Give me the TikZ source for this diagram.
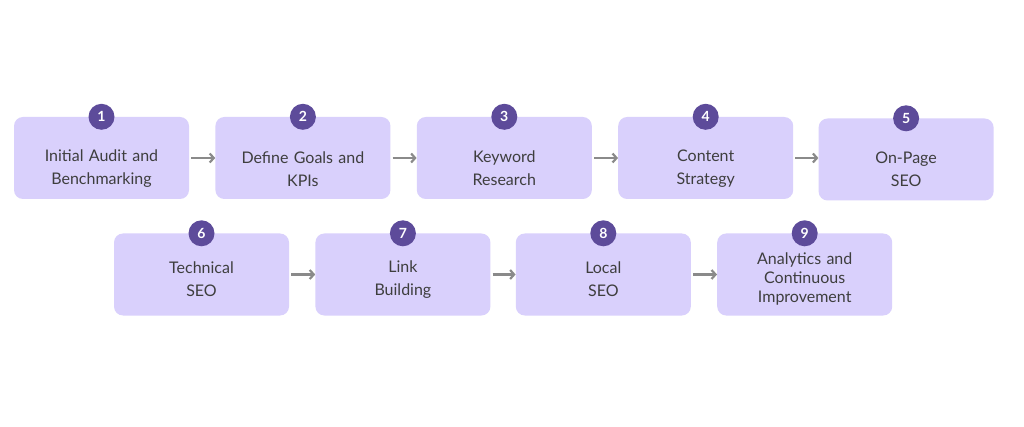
\documentclass[tikz,border=0pt]{standalone}
\usepackage{fontspec}
\setmainfont{Lato}
\usepackage{tikz}
\usetikzlibrary{positioning,arrows.meta}
\definecolor{boxfill}{HTML}{D9D0FC}
\definecolor{badgefill}{HTML}{5D4B9A}
\definecolor{textgray}{HTML}{3E3E3E}
\definecolor{arrowgray}{HTML}{8A8A8A}
\tikzset{
  stepbox/.style={rectangle, rounded corners=9pt, fill=boxfill, minimum width=175pt,
    minimum height=82pt},
  steptext/.style={text width=165pt, align=center, text=textgray,
    font=\fontsize{16pt}{23pt}\selectfont},
  badge/.style={circle, fill=badgefill, minimum size=26pt, inner sep=0pt, text=white,
    font=\fontsize{14pt}{14pt}\selectfont\bfseries},
  link/.style={arrowgray, line width=2.2pt, -{Straight Barb[length=4pt,width=9pt]}, shorten <=2pt}
}
\begin{document}
\begin{tikzpicture}[x=1pt,y=1pt]
            % 背景和边界
            \useasboundingbox[fill=white] (0,0) rectangle (1024,-427);
            % 第一行
            \node[stepbox] (b1) at (101.5,-158) {};
            \node[stepbox, right=26pt of b1] (b2) {};
            \node[stepbox, right=26pt of b2] (b3) {};
            \node[stepbox, right=26pt of b3] (b4) {};
            \node[stepbox, right=25pt of b4, yshift=-1.5pt] (b5) {};
            % 第二行
            \node[stepbox] (b6) at (201.5,-274.5) {};
            \node[stepbox, right=26pt of b6] (b7) {};
            \node[stepbox, right=25pt of b7] (b8) {};
            \node[stepbox, right=26pt of b8] (b9) {};
            % 文字
            \foreach \i/\dy/\txt in {1/11/{Initial Audit and\\Benchmarking},
                                     2/11/{Define Goals and\\KPIs},
                                     3/10/{Keyword\\Research},
                                     4/11/{Content\\Strategy},
                                     5/10/{On-Page\\SEO},
                                     6/5/{Technical\\SEO},
                                     7/5/{Link\\Building},
                                     8/5/{Local\\SEO}}
                \node[steptext] (t\i) at ([yshift=-\dy pt]b\i.center) {\txt};
            \node[steptext, font=\fontsize{16pt}{19pt}\selectfont] (t9) at ([yshift=-4pt]b9.center)
                {Analytics and\\Continuous\\Improvement};
            % 编号圆圈
            \foreach \i in {1,...,9}
                \node[badge] (n\i) at (b\i.north) {\i};
            % 箭头
            \foreach \a/\b in {1/2,2/3,3/4,4/5,6/7,7/8,8/9}
                \draw[link] (b\a.east) -- (b\a.east -| b\b.west);
          \end{tikzpicture}
\end{document}
